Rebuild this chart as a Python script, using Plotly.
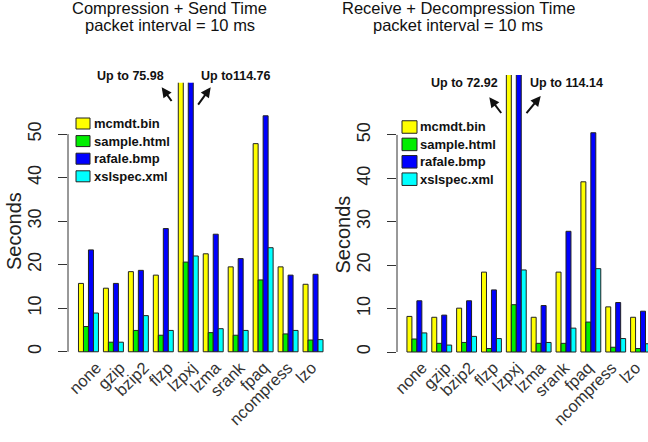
import plotly.graph_objects as go

categories = ["none", "gzip", "bzip2", "flzp", "lzpxj", "lzma", "srank", "fpaq", "ncompress", "lzo"]
series_names = ["mcmdt.bin", "sample.html", "rafale.bmp", "xslspec.xml"]
colors = ["#FFFF00", "#00EE00", "#0000FF", "#00FFFF"]

send_mcmdt = [15.7, 14.6, 18.4, 17.6, 75.98, 22.5, 19.5, 47.8, 19.5, 15.5]
send_sample = [5.8, 2.2, 4.9, 3.8, 20.6, 4.4, 3.8, 16.5, 4.1, 2.7]
send_rafale = [23.4, 15.7, 18.7, 28.3, 114.76, 27.0, 21.4, 54.2, 17.6, 17.8]
send_xslspec = [8.9, 2.2, 8.3, 4.9, 22.0, 5.3, 4.9, 23.9, 4.9, 2.8]

recv_mcmdt = [8.2, 8.0, 10.1, 18.4, 72.92, 8.0, 18.4, 39.2, 10.4, 8.0]
recv_sample = [3.0, 2.0, 2.2, 0.8, 10.9, 2.0, 2.0, 6.9, 1.1, 0.8]
recv_rafale = [11.8, 8.5, 11.8, 14.3, 114.14, 10.7, 27.8, 50.5, 11.4, 9.4]
recv_xslspec = [4.4, 1.6, 3.6, 3.1, 18.9, 2.2, 5.5, 19.2, 3.1, 1.9]

y_ticks = [0, 10, 20, 30, 40, 50]

W, H = 648, 442
def px(x):
    return x / W
def py(y):
    return 1 - y / H

FONT = "Liberation Sans"
fig = go.Figure()

send = [send_mcmdt, send_sample, send_rafale, send_xslspec]
recv = [recv_mcmdt, recv_sample, recv_rafale, recv_xslspec]
for name, col, vals in zip(series_names, colors, send):
    fig.add_trace(go.Bar(x=categories, y=vals, name=name, marker=dict(color=col, line=dict(color="#222", width=1)),
                         xaxis="x", yaxis="y", showlegend=False))
for name, col, vals in zip(series_names, colors, recv):
    fig.add_trace(go.Bar(x=categories, y=vals, name=name, marker=dict(color=col, line=dict(color="#222", width=1)),
                         xaxis="x2", yaxis="y2", showlegend=False))

# invisible helper traces so the label axes are drawn
idx = list(range(len(categories)))
for xa, ya in [("x3", "y"), ("x4", "y2")]:
    fig.add_trace(go.Scatter(x=idx, y=[0] * len(idx), mode="markers", marker=dict(opacity=0),
                             hoverinfo="skip", showlegend=False, xaxis=xa, yaxis=ya))

xcommon = dict(showline=False, ticks="", showgrid=False, zeroline=False, automargin=False,
               showticklabels=False, type="category")
lblcommon = dict(showline=False, ticks="", showgrid=False, zeroline=False, automargin=False,
                 tickmode="array", tickvals=idx, ticktext=categories, tickangle=-45,
                 tickfont=dict(family=FONT, size=16.5, color="#333"), ticklabelstandoff=-8)
ycommon = dict(showline=False, ticks="outside", ticklen=9, tickcolor="#333", tickwidth=1, automargin=False,
               tickvals=y_ticks, tickangle=-90, showgrid=False, zeroline=False,
               tickfont=dict(family=FONT, size=18, color="#222"), ticklabelstandoff=10)

fig.update_layout(
    width=W, height=H, margin=dict(l=0, r=0, t=0, b=0),
    paper_bgcolor="white", plot_bgcolor="white",
    barmode="group", bargap=0.2, bargroupgap=0,
    xaxis=dict(domain=[px(68), px(333)], range=[-0.82, 9.8], anchor="y", **xcommon),
    xaxis2=dict(domain=[px(397), 1.0], range=[-0.8, 9.3], anchor="y2", **xcommon),
    xaxis3=dict(overlaying="x", anchor="y", range=[-1.182, 9.887], **lblcommon),
    xaxis4=dict(overlaying="x2", anchor="y2", range=[-1.066, 9.524], **lblcommon),
    yaxis=dict(domain=[py(362), py(82.7)], range=[-2.35, 61.8], anchor="x", **ycommon),
    yaxis2=dict(domain=[py(362), py(75)], range=[-2.3, 63.8], anchor="x2", **ycommon),
)

shapes = [
    dict(type="line", xref="x domain", yref="y", x0=0, x1=0, y0=0, y1=50, line=dict(color="#333", width=1)),
    dict(type="line", xref="x2 domain", yref="y2", x0=0, x1=0, y0=0, y1=50, line=dict(color="#333", width=1)),
]
annotations = []

# titles
for cx, lines in [(169.5, ["Compression + Send Time", "packet interval = 10 ms"]),
                  (458, ["Receive + Decompression Time", "packet interval = 10 ms"])]:
    for cy, t in zip([7.8, 24.5], lines):
        annotations.append(dict(x=px(cx), y=py(cy), xref="paper", yref="paper", text=t,
                                showarrow=False, xanchor="center", yanchor="middle",
                                font=dict(family=FONT, size=16.5, color="#111")))

# y axis titles
for cx, cy in [(14, 231), (342.5, 235)]:
    annotations.append(dict(x=px(cx), y=py(cy), xref="paper", yref="paper", text="Seconds", textangle=-90,
                            showarrow=False, xanchor="center", yanchor="middle",
                            font=dict(family=FONT, size=20, color="#222")))

# legends
for (lx, ly0, sw, sh, step, tx) in [(76, 123.5, 14, 11, 17.6, 92), (402, 127, 15, 12.5, 17.4, 418)]:
    for i, (name, col) in enumerate(zip(series_names, colors)):
        cy = ly0 + step * i
        shapes.append(dict(type="rect", xref="paper", yref="paper", x0=px(lx), x1=px(lx + sw),
                           y0=py(cy + sh / 2), y1=py(cy - sh / 2), fillcolor=col,
                           line=dict(color="#222", width=1)))
        annotations.append(dict(x=px(tx), y=py(cy), xref="paper", yref="paper", text=name,
                                showarrow=False, xanchor="left", yanchor="middle",
                                font=dict(family=FONT, size=13, color="#111", weight="bold")))

# "Up to" labels and arrows
up_labels = [
    (f"Up to {send_mcmdt[4]:.2f}", 130, 76, (161.7, 87.3), (173, 103)),
    (f"Up to{send_rafale[4]:.2f}", 236, 76, (210.7, 87.3), (196.7, 106.7)),
    (f"Up to {recv_mcmdt[4]:.2f}", 464, 83, (489.3, 97.3), (502.7, 115)),
    (f"Up to {recv_rafale[4]:.2f}", 566.5, 83, (540.7, 96), (525, 115)),
]
for text, tx, ty, tip, tail in up_labels:
    annotations.append(dict(x=px(tx), y=py(ty), xref="paper", yref="paper", text=text, showarrow=False,
                            xanchor="center", yanchor="middle",
                            font=dict(family=FONT, size=12.5, color="#111", weight="bold")))
    annotations.append(dict(x=px(tip[0]), y=py(tip[1]), xref="paper", yref="paper", text=" ",
                            showarrow=True, ax=tail[0] - tip[0], ay=tail[1] - tip[1], axref="pixel", ayref="pixel",
                            arrowhead=2, arrowsize=1, arrowwidth=2, arrowcolor="#111",
                            font=dict(size=1), standoff=0, startstandoff=0))

fig.update_layout(shapes=shapes, annotations=annotations)
fig.write_html("out.html", config={"displayModeBar": False},
               post_script="document.body.style.margin='0';document.body.style.padding='0';")
